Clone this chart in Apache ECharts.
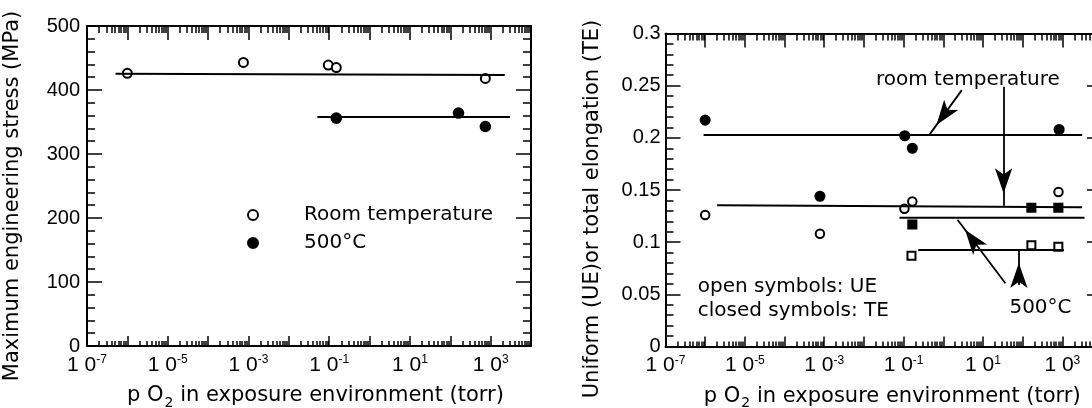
<!DOCTYPE html>
<html><head><meta charset="utf-8">
<script src="https://cdn.jsdelivr.net/npm/echarts@6/dist/echarts.min.js"></script>
<style>html,body{margin:0;padding:0;background:#fff}#c{width:1092px;height:408px}</style>
</head><body><div id="c"></div>
<script>
// ================= DATA =================
// x values are oxygen partial pressure in torr
// Left panel: maximum engineering stress (MPa)
const stressRT_P = [1e-6, 7.5e-4, 0.095, 0.15, 740];
const stressRT   = [426, 443, 439, 435, 418];
const stress500_P = [0.15, 160, 740];
const stress500   = [356, 364, 343];
const fitStressRT_P = [5.1e-7, 2240];
const fitStressRT   = [425.5, 423.5];
const fitStress500_P = [0.051, 3000];
const fitStress500   = [358, 358];
// Right panel: uniform (UE) / total (TE) elongation
const ueRT_P = [1e-6, 7.8e-4, 0.105, 0.166, 800];
const ueRT   = [0.126, 0.108, 0.132, 0.139, 0.148];
const teRT_P = [1e-6, 7.8e-4, 0.107, 0.166, 830];
const teRT   = [0.217, 0.144, 0.202, 0.190, 0.208];
const ue500_P = [0.158, 166, 794];
const ue500   = [0.087, 0.097, 0.0957];
const te500_P = [0.166, 166, 794];
const te500   = [0.117, 0.133, 0.133];
const fitTeRT_P = [9.1e-7, 3160];  const fitTeRT = [0.2026, 0.2026];
const fitUeRT_P = [2e-6, 3160];    const fitUeRT = [0.1355, 0.1335];
const fitTe500_P = [0.079, 3630];  const fitTe500 = [0.1234, 0.1234];
const fitUe500_P = [0.234, 1100];  const fitUe500 = [0.0925, 0.0925];
// arrows: from (P, V) to (P, V)
const arrowsFromP = [2.93, 33.1, 36.7, 80.4];
const arrowsFromV = [0.2457, 0.249, 0.0606, 0.059];
const arrowsToP   = [0.44, 33.1, 2.29, 80.4];
const arrowsToV   = [0.2026, 0.1350, 0.1215, 0.0920];
// annotation texts
const noteTexts = ['room temperature', '500°C', 'open symbols: UE', 'closed symbols: TE'];
// axis ticks / labels
const X_MIN_EXP = -7, X_MAX_EXP = 4;
const xLabelExp = [-7, -5, -3, -1, 1, 3];
const legendNames = ['Room temperature', '500°C'];

// ================= CHART =================
const K = '#000';
const FT = 'DejaVu Sans', FN = 'Liberation Sans';
const lg = p => Math.log10(p);
const pts = (P, V) => P.map((p, i) => [lg(p), V[i]]);
const xMajor = [], xMinor = [];
for (let e = X_MIN_EXP; e <= X_MAX_EXP; e++) {
  xMajor.push(e);
  if (e < X_MAX_EXP) for (let k = 2; k <= 9; k++) xMinor.push(e + Math.log10(k));
}
const LS = {color: K, width: 2};
const TS = {color: K, width: 1.5};

function xAxisSet(grid, nameGap, namePadLeft) {
  const base = {gridIndex: grid, type: 'value', min: X_MIN_EXP, max: X_MAX_EXP,
    splitLine: {show: false}, minorSplitLine: {show: false}};
  return [
    Object.assign({}, base, {position: 'bottom',
      axisLine: {show: true, onZero: false, lineStyle: LS},
      axisTick: {show: true, inside: true, length: 10, customValues: xMajor, lineStyle: TS},
      axisLabel: {show: true, customValues: xLabelExp, margin: 8,
        formatter: v => '{b|1 0}{s|' + v + '}',
        rich: {b: {fontFamily: FN, fontSize: 21, color: K, lineHeight: 22},
               s: {fontFamily: FN, fontSize: 12, color: K, lineHeight: 12, verticalAlign: 'top'}}},
      name: 'p O{s|2} in exposure environment (torr)', nameLocation: 'middle', nameGap: nameGap,
      nameTextStyle: {fontFamily: FT, fontSize: 21, color: K, padding: [0, 0, 0, namePadLeft],
        rich: {s: {fontFamily: FT, fontSize: 14, color: K, padding: [14, 0, 0, 1]}}}}),
    Object.assign({}, base, {position: 'bottom', axisLine: {show: false, onZero: false},
      axisTick: {show: true, inside: true, length: 5, customValues: xMinor, lineStyle: TS},
      axisLabel: {show: false}}),
    Object.assign({}, base, {position: 'top', axisLine: {show: true, onZero: false, lineStyle: LS},
      axisTick: {show: true, inside: true, length: 14, customValues: xMajor, lineStyle: TS},
      axisLabel: {show: false}}),
    Object.assign({}, base, {position: 'top', axisLine: {show: false, onZero: false},
      axisTick: {show: true, inside: true, length: 7, customValues: xMinor, lineStyle: TS},
      axisLabel: {show: false}})
  ];
}
function yAxisSet(grid, max, interval, name, nameGap, padRight, labelMargin) {
  const base = {gridIndex: grid, type: 'value', min: 0, max: max, interval: interval,
    splitLine: {show: false}, minorSplitLine: {show: false}};
  const ticks = {
    axisLine: {show: true, onZero: false, lineStyle: LS},
    axisTick: {show: true, inside: true, length: 15, lineStyle: TS},
    minorTick: {show: true, splitNumber: 5, length: 8, lineStyle: TS}
  };
  return [
    Object.assign({}, base, ticks, {position: 'left',
      axisLabel: {show: true, margin: labelMargin, fontFamily: FN, fontSize: 20, color: K},
      name: name, nameLocation: 'middle', nameGap: nameGap,
      nameTextStyle: {fontFamily: FT, fontSize: 21, color: K, padding: [0, padRight, 0, 0]}}),
    Object.assign({}, base, ticks, {position: 'right', axisLabel: {show: false}})
  ];
}

const xAxes = xAxisSet(0, 36, 13).concat(xAxisSet(1, 36, 17));
const yAxes = yAxisSet(0, 500, 100, 'Maximum engineering stress (MPa)', 64, 20, 7)
  .concat(yAxisSet(1, 0.3, 0.05, 'Uniform (UE)or total elongation (TE)', 62, 38, 5));

function scatter(name, xi, yi, data, symbol, size) {
  return {type: 'scatter', name: name, xAxisIndex: xi, yAxisIndex: yi, data: data,
    symbol: symbol, symbolSize: size, z: 2,
    itemStyle: {color: K, borderColor: K, borderWidth: 1.6, opacity: 1}};
}
function fitLine(xi, yi, data, extra) {
  return Object.assign({type: 'line', xAxisIndex: xi, yAxisIndex: yi, data: data, symbol: 'none',
    color: K, lineStyle: {color: K, width: 2}, z: 3, silent: true}, extra || {});
}
const arrowData = arrowsFromP.map((p, i) => [
  {coord: [lg(p), arrowsFromV[i]], symbol: 'none'},
  {coord: [lg(arrowsToP[i]), arrowsToV[i]], symbol: 'arrow', symbolSize: [13, 25],
   symbolOffset: [0, 12.5], symbolKeepAspect: false}
]);
const notePos = [
  {value: [0.62, 0.256], label: {position: 'inside'}},
  {value: [2.45, 0.037], label: {position: 'inside'}},
  {value: [-6.2, 0.0574], label: {position: 'right', distance: 0}},
  {value: [-6.2, 0.0344], label: {position: 'right', distance: 0}}
].map((d, i) => Object.assign(d, {label: Object.assign({formatter: noteTexts[i]}, d.label)}));

const option = {
  animation: false,
  backgroundColor: '#fff',
  textStyle: {fontFamily: FT, color: K},
  grid: [
    {left: 87, top: 26, width: 444, height: 320, containLabel: false, outerBoundsMode: 'none'},
    {left: 665.5, top: 33.5, width: 436.5, height: 313, containLabel: false, outerBoundsMode: 'none'}
  ],
  legend: {
    data: legendNames, orient: 'vertical', left: 247, top: 205, itemWidth: 92, itemHeight: 10,
    itemGap: 8, selectedMode: false, padding: 0,
    textStyle: {fontFamily: FT, fontSize: 20, color: K, lineHeight: 20}
  },
  xAxis: xAxes,
  yAxis: yAxes,
  series: [
    scatter('Room temperature', 0, 0, pts(stressRT_P, stressRT), 'emptyCircle', 9),
    scatter('500°C', 0, 0, pts(stress500_P, stress500), 'circle', 10),
    fitLine(0, 0, pts(fitStressRT_P, fitStressRT)),
    fitLine(0, 0, pts(fitStress500_P, fitStress500)),

    scatter('UE room temperature', 4, 2, pts(ueRT_P, ueRT), 'emptyCircle', 8.5),
    scatter('TE room temperature', 4, 2, pts(teRT_P, teRT), 'circle', 9.5),
    scatter('UE 500°C', 4, 2, pts(ue500_P, ue500), 'emptyRect', 8),
    scatter('TE 500°C', 4, 2, pts(te500_P, te500), 'rect', 8.5),
    fitLine(4, 2, pts(fitTeRT_P, fitTeRT), {
      markLine: {silent: true, animation: false, symbol: ['none', 'arrow'],
        itemStyle: {color: K, opacity: 1},
        lineStyle: {color: K, width: 1.8, type: 'solid', opacity: 1}, label: {show: false},
        emphasis: {disabled: true}, data: arrowData}
    }),
    fitLine(4, 2, pts(fitUeRT_P, fitUeRT)),
    fitLine(4, 2, pts(fitTe500_P, fitTe500)),
    fitLine(4, 2, pts(fitUe500_P, fitUe500)),
    {type: 'scatter', name: 'notes', xAxisIndex: 4, yAxisIndex: 2, symbolSize: 1, silent: true, z: 4,
      itemStyle: {color: 'rgba(0,0,0,0)', opacity: 1},
      label: {show: true, fontFamily: FT, fontSize: 20, color: K, opacity: 1},
      data: notePos}
  ]
};
const chart = echarts.init(document.getElementById('c'));
chart.setOption(option);
</script>
</body></html>
